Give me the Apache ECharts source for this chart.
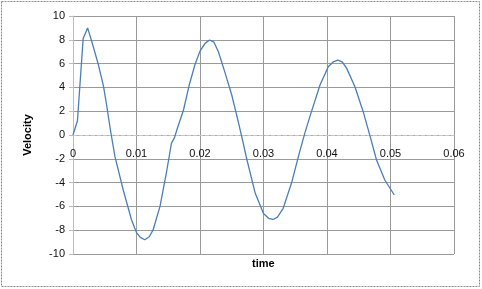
<!DOCTYPE html>
<html><head><meta charset="utf-8">
<script src="https://cdn.jsdelivr.net/npm/echarts@6/dist/echarts.min.js"></script>
<style>html,body{margin:0;padding:0;background:#fff}#c{width:482px;height:289px}</style>
</head><body><div id="c"></div>
<script>
const timeValues = [0, 0.0007, 0.0016, 0.0023, 0.0031, 0.004, 0.0048, 0.0053, 0.0059, 0.0066, 0.0079, 0.0092, 0.0097, 0.0100, 0.0106, 0.0113, 0.0120, 0.0126, 0.0137, 0.0148, 0.0155, 0.0160, 0.0164, 0.0174, 0.0183, 0.0192, 0.0200, 0.0208, 0.0215, 0.0222, 0.0229, 0.0239, 0.0250, 0.0259, 0.0266, 0.0274, 0.0287, 0.0300, 0.0308, 0.0315, 0.0322, 0.0331, 0.0344, 0.0357, 0.0365, 0.0373, 0.0389, 0.0402, 0.0410, 0.0417, 0.0424, 0.0431, 0.0444, 0.0457, 0.0468, 0.0478, 0.0491, 0.0506];
const velocityValues = [0, 1.2, 8.1, 9.0, 7.6, 5.9, 4.1, 2.5, 0.4, -1.8, -4.6, -7.1, -7.8, -8.2, -8.6, -8.8, -8.55, -8.0, -6.0, -2.9, -0.7, -0.2, 0.5, 2.1, 4.2, 5.9, 7.05, 7.7, 7.98, 7.8, 7.0, 5.3, 3.36, 1.4, -0.2, -2.1, -4.9, -6.6, -7.0, -7.1, -6.9, -6.16, -4.06, -1.4, 0.14, 1.54, 4.2, 5.74, 6.15, 6.3, 6.15, 5.6, 4.06, 1.96, -0.14, -2.1, -3.78, -5.04];
const xTicks = [0, 0.01, 0.02, 0.03, 0.04, 0.05, 0.06];
const yTicks = [-10, -8, -6, -4, -2, 0, 2, 4, 6, 8, 10];

const data = timeValues.map((t, i) => [t, velocityValues[i]]);
const chart = echarts.init(document.getElementById('c'), null, {renderer: 'canvas'});
const font = '"Liberation Sans", Arial, sans-serif';
const gridTop = 16, gridBottom = 35, H = 289;
const plotH = H - gridTop - gridBottom;
// x axis sits where y = 0 (the middle of the symmetric -10..10 range)
const zeroOffset = -plotH * (0 - yTicks[0]) / (yTicks[yTicks.length - 1] - yTicks[0]);
chart.setOption({
  animation: false,
  grid: {left: 73, right: 28, top: gridTop, bottom: gridBottom, containLabel: false, outerBoundsMode: 'none'},
  graphic: [{
    type: 'rect', shape: {x: 1.5, y: 1.5, width: 478, height: 285},
    style: {fill: 'none', stroke: '#888', lineWidth: 1, lineDash: [2, 1]}, silent: true
  }, {
    type: 'text', left: 252, top: 258,
    style: {text: 'time', font: 'bold 11px ' + font, fill: '#000'}, silent: true
  }],
  xAxis: {
    type: 'value', min: xTicks[0], max: xTicks[xTicks.length - 1], interval: 0.01,
    position: 'bottom', offset: zeroOffset,
    axisLine: {show: true, onZero: false, lineStyle: {color: '#c8c8c8', type: 'dashed'}},
    axisTick: {show: false},
    axisLabel: {margin: 13, fontFamily: font, fontSize: 11, color: '#111',
      formatter: v => String(Math.round(v * 100) / 100)},
    splitLine: {show: true, lineStyle: {color: '#9a9a9a', width: 1}}
  },
  yAxis: {
    type: 'value', min: yTicks[0], max: yTicks[yTicks.length - 1], interval: 2,
    name: 'Velocity', nameLocation: 'middle', nameGap: 40,
    nameTextStyle: {fontFamily: font, fontSize: 11, fontWeight: 'bold', color: '#000'},
    axisLine: {show: true, onZero: false, lineStyle: {color: '#bdbdbd'}},
    axisTick: {show: true, length: 4, lineStyle: {color: '#bdbdbd'}},
    axisLabel: {margin: 8, fontFamily: font, fontSize: 11, color: '#111'},
    splitLine: {show: true, lineStyle: {color: '#9a9a9a', width: 1}}
  },
  series: [{
    type: 'line', data: data, showSymbol: false, smooth: false,
    lineStyle: {color: '#4a7ebb', width: 1.3}
  }]
});
</script></body></html>
